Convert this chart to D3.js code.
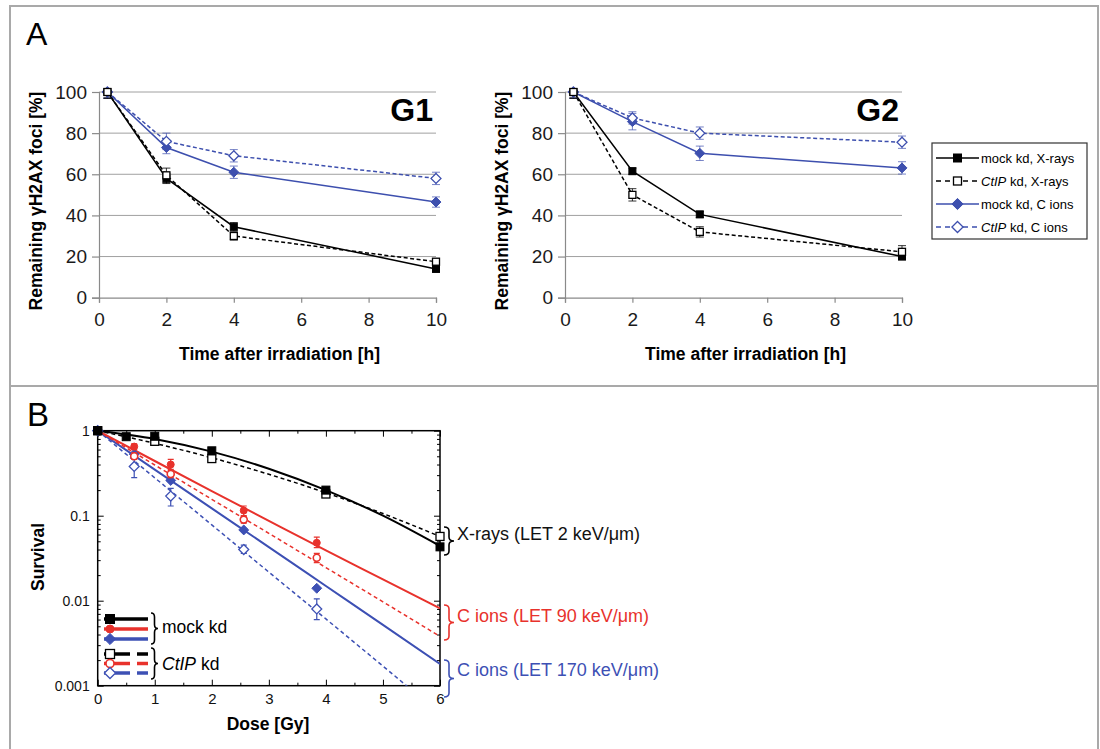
<!DOCTYPE html>
<html><head><meta charset="utf-8">
<script src="https://cdn.jsdelivr.net/npm/d3@7"></script>
<style>body{margin:0;background:#fff}svg{display:block;font-family:"Liberation Sans",Arial,sans-serif}</style>
</head><body>
<svg id="c" width="1100" height="749"></svg>
<script>
// ---------- Panel A data ----------
const timesA = [0.25, 2, 4, 10];
const yTicksA = [0, 20, 40, 60, 80, 100];
const xTicksA = [0, 2, 4, 6, 8, 10];
const g1MockX = [100, 58, 34.5, 14];
const g1MockXErr = [3, 2.5, 2, 1.5];
const g1CtipX = [100, 59.5, 30, 17.5];
const g1CtipXErr = [3, 3.5, 2, 1.5];
const g1MockC = [100, 73, 61, 46.5];
const g1MockCErr = [3, 3, 3, 2.5];
const g1CtipC = [100, 76, 69, 58];
const g1CtipCErr = [3, 4, 3, 3];
const g2MockX = [100, 61.5, 40.5, 20];
const g2MockXErr = [3, 1.5, 1.5, 1.5];
const g2CtipX = [100, 50, 32, 22.3];
const g2CtipXErr = [3, 3, 2.5, 3];
const g2MockC = [100, 85.6, 70.2, 63.1];
const g2MockCErr = [3, 4, 3.5, 3];
const g2CtipC = [100, 87.4, 80, 75.6];
const g2CtipCErr = [3, 3, 3, 3];
const legendA = ["mock kd, X-rays", "CtIP kd, X-rays", "mock kd, C ions", "CtIP kd, C ions"];

// ---------- Panel B data ----------
const xTicksB = [0, 1, 2, 3, 4, 5, 6];
const yTicksB = [1, 0.1, 0.01, 0.001];
const doseX = [0, 0.5, 1, 2, 4, 6];
const survMockX = [1, 0.85, 0.86, 0.58, 0.2, 0.043];
const doseXCtip = [0, 1, 2, 4, 6];
const survCtipX = [1, 0.75, 0.47, 0.18, 0.057];
const doseIon = [0, 0.64, 1.28, 2.56, 3.84];
const survMock90 = [1, 0.65, 0.40, 0.115, 0.048];
const errLoMock90 = [null, 0.60, 0.35, 0.10, 0.042];
const errHiMock90 = [null, 0.70, 0.46, 0.13, 0.056];
const survCtip90 = [1, 0.50, 0.31, 0.09, 0.032];
const errLoCtip90 = [null, 0.46, 0.28, 0.082, 0.028];
const errHiCtip90 = [null, 0.55, 0.34, 0.098, 0.036];
const survMock170 = [1, 0.53, 0.26, 0.068, 0.014];
const survCtip170 = [1, 0.38, 0.17, 0.04, 0.008];
const errLoCtip170 = [null, 0.28, 0.13, 0.036, 0.006];
const errHiCtip170 = [null, 0.50, 0.21, 0.045, 0.0105];
// fitted curves at whole doses
const fitDose = [0, 1, 2, 3, 4, 5, 6];
const fitMockX = [1, 0.80, 0.567, 0.357, 0.2, 0.10, 0.044];
const fitCtipX = [1, 0.71, 0.48, 0.307, 0.186, 0.106, 0.057];
const fitMock90 = [1, 0.44, 0.195, 0.087, 0.039, 0.0178, 0.0081];
const fitCtip90 = [1, 0.395, 0.156, 0.062, 0.0245, 0.0097, 0.0038];
const fitMock170 = [1, 0.349, 0.122, 0.0427, 0.0149, 0.0052, 0.0018];
const fitCtip170 = [1, 0.279, 0.078, 0.0217, 0.0061, 0.0017, 0.00047];
const annotB = ["X-rays (LET 2 keV/μm)", "C ions (LET 90 keV/μm)", "C ions (LET 170 keV/μm)"];

// ---------- drawing ----------
const svg = d3.select("#c");
const BLUE_A = "#3d4fae", RED = "#e8322c", BLUE_B = "#3d50b4";

// outer frame
svg.append("rect").attr("x", 10).attr("y", 6).attr("width", 1088).attr("height", 760)
  .attr("fill", "none").attr("stroke", "#a9a9a9").attr("stroke-width", 2);
svg.append("line").attr("x1", 10).attr("x2", 1098).attr("y1", 386).attr("y2", 386)
  .attr("stroke", "#a9a9a9").attr("stroke-width", 2);
svg.append("text").attr("x", 26).attr("y", 45).attr("font-size", 32).text("A");
svg.append("text").attr("x", 27).attr("y", 426).attr("font-size", 33).text("B");

function marker(g, type, filled, color, x, y, s) {
  if (type === "square") {
    g.append("rect").attr("x", x - s / 2).attr("y", y - s / 2).attr("width", s).attr("height", s)
      .attr("fill", filled ? color : "#fff").attr("stroke", color).attr("stroke-width", filled ? 1 : 1.3);
  } else if (type === "diamond") {
    const r = s * 0.62;
    g.append("path").attr("d", `M${x},${y - r}L${x + r},${y}L${x},${y + r}L${x - r},${y}Z`)
      .attr("fill", filled ? color : "#fff").attr("stroke", color).attr("stroke-width", filled ? 1 : 1.3);
  } else {
    g.append("circle").attr("cx", x).attr("cy", y).attr("r", s / 2)
      .attr("fill", filled ? color : "#fff").attr("stroke", color).attr("stroke-width", filled ? 1 : 1.6);
  }
}

function panelA(x0, x1, label, series) {
  const x = d3.scaleLinear([0, 10], [x0, x1]);
  const y = d3.scaleLinear([0, 100], [297.7, 92]);
  const g = svg.append("g");
  // grid
  g.selectAll(".grid").data(yTicksA.filter(v => v > 0)).join("line")
    .attr("x1", x0).attr("x2", x1).attr("y1", d => y(d)).attr("y2", d => y(d))
    .attr("stroke", "#a0a0a0").attr("stroke-width", 1);
  const ax = g.append("g").attr("transform", `translate(0,${y(0)})`)
    .call(d3.axisBottom(x).tickValues(xTicksA).tickSize(5).tickPadding(10).tickFormat(d3.format("d")));
  const ay = g.append("g").attr("transform", `translate(${x0},0)`)
    .call(d3.axisLeft(y).tickValues(yTicksA).tickSize(7).tickPadding(5).tickFormat(d3.format("d")));
  [ax, ay].forEach(a => {
    a.selectAll("path,line").attr("stroke", "#8a8a8a").attr("stroke-width", 1.2);
    a.selectAll("text").attr("font-size", 19).attr("fill", "#1a1a1a")
      .attr("font-family", "'Liberation Sans', Arial, sans-serif");
  });
  // titles
  g.append("text").attr("x", (x0 + x1) / 2 + 12).attr("y", 360).attr("text-anchor", "middle")
    .attr("font-size", 17.5).attr("font-weight", "bold").text("Time after irradiation [h]");
  g.append("text").attr("transform", `translate(${x0 - 57},201) rotate(-90)`).attr("text-anchor", "middle")
    .attr("font-size", 17.5).attr("font-weight", "bold").text("Remaining γH2AX foci [%]");
  g.append("text").attr("x", x1 - 3).attr("y", 121).attr("text-anchor", "end")
    .attr("font-size", 32).attr("font-weight", "bold").text(label);
  // clip
  const cid = "clip" + label;
  svg.append("clipPath").attr("id", cid).append("rect")
    .attr("x", x0 - 10).attr("y", 92).attr("width", x1 - x0 + 20).attr("height", 210);
  const pg = g.append("g").attr("clip-path", `url(#${cid})`);
  const line = d3.line().x((d, i) => x(timesA[i])).y(d => y(d));
  series.forEach(s => {
    pg.append("path").attr("d", line(s.v)).attr("fill", "none").attr("stroke", s.color)
      .attr("stroke-width", 1.5).attr("stroke-dasharray", s.dash ? "4,2.5" : null);
  });
  series.forEach(s => {
    s.v.forEach((v, i) => {
      const cx = x(timesA[i]), e = s.e[i];
      pg.append("path").attr("d", `M${cx},${y(v - e)}V${y(v + e)}M${cx - 4},${y(v - e)}h8M${cx - 4},${y(v + e)}h8`)
        .attr("stroke", s.color).attr("stroke-opacity", s.color === "#000" ? 0.8 : 0.7).attr("stroke-width", 1).attr("fill", "none");
    });
  });
  series.forEach(s => {
    s.v.forEach((v, i) => marker(g, s.type, s.filled, s.color, x(timesA[i]), y(v), s.type === "square" ? 7 : 8));
  });
}

panelA(99, 436, "G1", [
  { v: g1MockC, e: g1MockCErr, color: BLUE_A, dash: false, type: "diamond", filled: true },
  { v: g1CtipC, e: g1CtipCErr, color: BLUE_A, dash: true, type: "diamond", filled: false },
  { v: g1MockX, e: g1MockXErr, color: "#000", dash: false, type: "square", filled: true },
  { v: g1CtipX, e: g1CtipXErr, color: "#000", dash: true, type: "square", filled: false }
]);
panelA(565, 902, "G2", [
  { v: g2MockC, e: g2MockCErr, color: BLUE_A, dash: false, type: "diamond", filled: true },
  { v: g2CtipC, e: g2CtipCErr, color: BLUE_A, dash: true, type: "diamond", filled: false },
  { v: g2MockX, e: g2MockXErr, color: "#000", dash: false, type: "square", filled: true },
  { v: g2CtipX, e: g2CtipXErr, color: "#000", dash: true, type: "square", filled: false }
]);

// legend A
(function () {
  const g = svg.append("g");
  g.append("rect").attr("x", 932).attr("y", 143).attr("width", 155).attr("height", 96)
    .attr("fill", "#fff").attr("stroke", "#333").attr("stroke-width", 1.2);
  const st = [
    { color: "#000", dash: false, type: "square", filled: true },
    { color: "#000", dash: true, type: "square", filled: false },
    { color: BLUE_A, dash: false, type: "diamond", filled: true },
    { color: BLUE_A, dash: true, type: "diamond", filled: false }
  ];
  legendA.forEach((t, i) => {
    const yy = 158 + i * 23, s = st[i];
    g.append("line").attr("x1", 936).attr("x2", 979).attr("y1", yy).attr("y2", yy)
      .attr("stroke", s.color).attr("stroke-width", 1.5).attr("stroke-dasharray", s.dash ? "5,4" : null);
    marker(g, s.type, s.filled, s.color, 957.5, yy, s.type === "square" ? 8 : 9);
    const tx = g.append("text").attr("x", 981).attr("y", yy + 4.5).attr("font-size", 13);
    if (t.startsWith("CtIP")) {
      tx.append("tspan").attr("font-style", "italic").text("CtIP");
      tx.append("tspan").text(t.slice(4));
    } else tx.text(t);
  });
})();

// ---------- Panel B ----------
(function () {
  const x = d3.scaleLinear([0, 6], [97.7, 440]);
  const y = d3.scaleLog([0.001, 1], [685.7, 430.7]);
  const g = svg.append("g");
  const minorX = d3.range(0.5, 6, 1);
  const minorY = [];
  [0.001, 0.01, 0.1].forEach(b => { for (let k = 2; k <= 9; k++) minorY.push(b * k); });
  const styleAxis = a => {
    a.select(".domain").remove();
    a.selectAll("line").attr("stroke", "#000").attr("stroke-width", 1);
    a.selectAll("text").attr("font-family", "'Liberation Sans', Arial, sans-serif").attr("fill", "#111");
  };
  g.append("g").attr("transform", "translate(0,685.7)")
    .call(d3.axisBottom(x).tickValues(xTicksB).tickSizeInner(-6).tickSizeOuter(0).tickPadding(8).tickFormat(d3.format("d")))
    .call(styleAxis).selectAll("text").attr("font-size", 15);
  g.append("g").attr("transform", "translate(0,685.7)")
    .call(d3.axisBottom(x).tickValues(minorX).tickSizeInner(-3).tickSizeOuter(0).tickFormat(""))
    .call(styleAxis);
  g.append("g").attr("transform", "translate(0,430.7)")
    .call(d3.axisTop(x).tickValues(xTicksB).tickSizeInner(-6).tickSizeOuter(0).tickFormat(""))
    .call(styleAxis);
  g.append("g").attr("transform", "translate(0,430.7)")
    .call(d3.axisTop(x).tickValues(minorX).tickSizeInner(-3).tickSizeOuter(0).tickFormat(""))
    .call(styleAxis);
  g.append("g").attr("transform", "translate(97.7,0)")
    .call(d3.axisLeft(y).tickValues(yTicksB).tickSizeInner(-6).tickSizeOuter(0).tickPadding(8).tickFormat(d => String(d)))
    .call(styleAxis).selectAll("text").attr("font-size", 14);
  g.append("g").attr("transform", "translate(97.7,0)")
    .call(d3.axisLeft(y).tickValues(minorY).tickSizeInner(-3).tickSizeOuter(0).tickFormat(""))
    .call(styleAxis);
  g.append("g").attr("transform", "translate(440,0)")
    .call(d3.axisRight(y).tickValues(yTicksB).tickSizeInner(-6).tickSizeOuter(0).tickFormat(""))
    .call(styleAxis);
  g.append("g").attr("transform", "translate(440,0)")
    .call(d3.axisRight(y).tickValues(minorY).tickSizeInner(-3).tickSizeOuter(0).tickFormat(""))
    .call(styleAxis);
  g.append("rect").attr("x", 97.7).attr("y", 430.7).attr("width", 440 - 97.7).attr("height", 685.7 - 430.7)
    .attr("fill", "none").attr("stroke", "#000").attr("stroke-width", 1.5);
  g.append("text").attr("x", 268).attr("y", 730).attr("text-anchor", "middle")
    .attr("font-size", 17.5).attr("font-weight", "bold").text("Dose [Gy]");
  g.append("text").attr("transform", "translate(44,557) rotate(-90)").attr("text-anchor", "middle")
    .attr("font-size", 17.5).attr("font-weight", "bold").text("Survival");

  svg.append("clipPath").attr("id", "clipB").append("rect")
    .attr("x", 97.7).attr("y", 430.7).attr("width", 440 - 97.7).attr("height", 685.7 - 430.7);
  const cg = g.append("g").attr("clip-path", "url(#clipB)");
  const line = d3.line().x((d, i) => x(fitDose[i])).y(d => y(d)).curve(d3.curveMonotoneX);
  const curves = [
    { v: fitCtip170, c: BLUE_B, dash: true }, { v: fitMock170, c: BLUE_B, dash: false },
    { v: fitCtip90, c: RED, dash: true }, { v: fitMock90, c: RED, dash: false },
    { v: fitCtipX, c: "#000", dash: true }, { v: fitMockX, c: "#000", dash: false }
  ];
  curves.forEach(s => cg.append("path").attr("d", line(s.v)).attr("fill", "none").attr("stroke", s.c)
    .attr("stroke-width", s.dash ? 1.5 : 2).attr("stroke-dasharray", s.dash ? "4,3" : null));

  const pts = [
    { d: doseIon, v: survCtip170, lo: errLoCtip170, hi: errHiCtip170, c: BLUE_B, t: "diamond", f: false },
    { d: doseIon, v: survMock170, c: BLUE_B, t: "diamond", f: true },
    { d: doseIon, v: survCtip90, lo: errLoCtip90, hi: errHiCtip90, c: RED, t: "circle", f: false },
    { d: doseIon, v: survMock90, lo: errLoMock90, hi: errHiMock90, c: RED, t: "circle", f: true },
    { d: doseXCtip, v: survCtipX, c: "#000", t: "square", f: false },
    { d: doseX, v: survMockX, c: "#000", t: "square", f: true }
  ];
  pts.forEach(p => {
    p.v.forEach((v, i) => {
      if (p.lo && p.lo[i] != null) {
        const cx = x(p.d[i]);
        g.append("path").attr("d", `M${cx},${y(p.lo[i])}V${y(p.hi[i])}M${cx - 3},${y(p.lo[i])}h6M${cx - 3},${y(p.hi[i])}h6`)
          .attr("stroke", p.c).attr("stroke-width", 1.2).attr("fill", "none");
      }
      marker(g, p.t, p.f, p.c, x(p.d[i]), y(v), p.t === "square" ? 8 : (p.t === "diamond" ? 8 : 7));
    });
  });

  // inner legend
  const lg = svg.append("g");
  const rows = [
    { y: 619, c: "#000", t: "square", f: true }, { y: 629, c: RED, t: "circle", f: true },
    { y: 639, c: BLUE_B, t: "diamond", f: true },
    { y: 654, c: "#000", t: "square", f: false }, { y: 663.5, c: RED, t: "circle", f: false },
    { y: 673, c: BLUE_B, t: "diamond", f: false }
  ];
  rows.forEach(r => {
    if (r.f) {
      lg.append("line").attr("x1", 104).attr("x2", 148).attr("y1", r.y).attr("y2", r.y)
        .attr("stroke", r.c).attr("stroke-width", 3.5);
    } else {
      lg.append("line").attr("x1", 104).attr("x2", 130).attr("y1", r.y).attr("y2", r.y)
        .attr("stroke", r.c).attr("stroke-width", 3.5);
      lg.append("line").attr("x1", 137).attr("x2", 148).attr("y1", r.y).attr("y2", r.y)
        .attr("stroke", r.c).attr("stroke-width", 3.5);
    }
    marker(lg, r.t, r.f, r.c, 110, r.y, r.t === "circle" ? 8 : 9);
  });
  function brace(x0, y0, y1, w, color) {
    const xm = x0 + w / 2, ym = (y0 + y1) / 2, r = Math.min(4, (y1 - y0) / 6);
    svg.append("path").attr("d",
      `M${x0},${y0}Q${xm},${y0} ${xm},${y0 + r}L${xm},${ym - r}Q${xm},${ym} ${x0 + w},${ym}` +
      `Q${xm},${ym} ${xm},${ym + r}L${xm},${y1 - r}Q${xm},${y1} ${x0},${y1}`)
      .attr("fill", "none").attr("stroke", color).attr("stroke-width", 1.6);
  }
  brace(151, 613, 644, 7, "#000");
  brace(151, 648, 679, 7, "#000");
  lg.append("text").attr("x", 162).attr("y", 633).attr("font-size", 17.5).text("mock kd");
  const ct = lg.append("text").attr("x", 162).attr("y", 670).attr("font-size", 17.5);
  ct.append("tspan").attr("font-style", "italic").text("CtIP");
  ct.append("tspan").text(" kd");

  // right annotations
  brace(444, 527, 555, 10, "#000");
  brace(444, 605, 640, 10, RED);
  brace(444, 660, 697, 10, BLUE_B);
  svg.append("text").attr("x", 457).attr("y", 540).attr("font-size", 18).attr("fill", "#111").text(annotB[0]);
  svg.append("text").attr("x", 457).attr("y", 622).attr("font-size", 18).attr("fill", RED).text(annotB[1]);
  svg.append("text").attr("x", 457).attr("y", 676).attr("font-size", 18).attr("fill", BLUE_B).text(annotB[2]);
})();
</script>
</body></html>
